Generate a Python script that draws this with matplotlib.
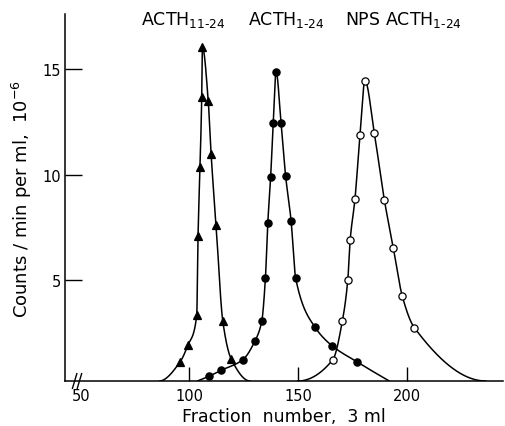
import numpy as np
import matplotlib
matplotlib.use("Agg")
import matplotlib.pyplot as plt

plt.rcParams['font.family'] = ['DejaVu Sans']
plt.rcParams['mathtext.default'] = 'regular'

# ACTH 11-24 (filled triangles)
a11_x = [95.7, 99.3, 103.4, 104.0, 104.9, 105.7, 106.0, 108.7, 110.0, 112.3, 115.4, 119.2]
a11_y = [1.12, 1.91, 3.33, 7.09, 10.36, 13.7, 16.08, 13.5, 11.0, 7.63, 3.05, 1.28]
a11_ends = [86.5, 127.9]

# ACTH 1-24 (filled circles)
a1_x = [108.9, 114.7, 124.6, 130.1, 133.3, 135.0, 136.1, 137.4, 138.6, 139.9,
        142.2, 144.3, 146.8, 148.9, 157.9, 165.8, 177.3]
a1_y = [0.44, 0.73, 1.23, 2.10, 3.05, 5.10, 7.73, 9.89, 12.46, 14.9,
        12.46, 9.94, 7.83, 5.10, 2.76, 1.88, 1.12]
a1_ends = [103.7, 192.0]

# NPS ACTH 1-24 (open circles)
nps_x = [166.0, 170.4, 172.9, 174.0, 176.2, 178.5, 180.8, 185.1, 189.7, 193.8, 198.0, 203.5]
nps_y = [1.23, 3.07, 5.02, 6.92, 8.86, 11.91, 14.47, 11.98, 8.82, 6.55, 4.23, 2.75]
nps_ends = [150.0, 236.3]

xticks = [50, 100, 150, 200]
yticks = [5, 10, 15]

Y0 = 0.22  # level of the x axis


def end_slope(h0, h1, d0, d1):
    m = ((2 * h0 + h1) * d0 - h0 * d1) / (h0 + h1)
    if np.sign(m) != np.sign(d0):
        return 0.0
    if np.sign(d0) != np.sign(d1) and abs(m) > abs(3 * d0):
        return 3 * d0
    return m


def pchip(x, y, xn):
    x = np.asarray(x, float); y = np.asarray(y, float)
    h = np.diff(x); d = np.diff(y) / h
    n = len(x)
    m = np.zeros(n)
    for k in range(1, n - 1):
        if d[k - 1] * d[k] > 0:
            w1 = 2 * h[k] + h[k - 1]
            w2 = h[k] + 2 * h[k - 1]
            m[k] = (w1 + w2) / (w1 / d[k - 1] + w2 / d[k])
    m[0] = end_slope(h[0], h[1], d[0], d[1])
    m[-1] = end_slope(h[-1], h[-2], d[-1], d[-2])
    idx = np.clip(np.searchsorted(x, xn) - 1, 0, n - 2)
    t = (xn - x[idx]) / h[idx]
    h00 = 2 * t**3 - 3 * t**2 + 1
    h10 = t**3 - 2 * t**2 + t
    h01 = -2 * t**3 + 3 * t**2
    h11 = t**3 - t**2
    return h00 * y[idx] + h10 * h[idx] * m[idx] + h01 * y[idx + 1] + h11 * h[idx] * m[idx + 1]


fig = plt.figure(figsize=(5.06, 4.27), dpi=100)
ax = fig.add_axes([65 / 506, 1 - 382 / 427, (503 - 65) / 506, (382 - 15) / 427])

for xs, ys, ends, marker, face in [
    (a11_x, a11_y, a11_ends, '^', 'black'),
    (a1_x, a1_y, a1_ends, 'o', 'black'),
    (nps_x, nps_y, nps_ends, 'o', 'white'),
]:
    cx = [ends[0]] + list(xs) + [ends[1]]
    cy = [Y0] + list(ys) + [Y0]
    xn = np.linspace(cx[0], cx[-1], 2000)
    ax.plot(xn, pchip(cx, cy, xn), color='black', lw=1.1, zorder=2)
    ax.plot(xs, ys, linestyle='none', marker=marker, markersize=5.2,
            markerfacecolor=face, markeredgecolor='black', markeredgewidth=0.9, zorder=3)

ax.set_xlim(42.8, 244.3)
ax.set_ylim(Y0, 17.63)
for s in ['top', 'right']:
    ax.spines[s].set_visible(False)
for s in ['left', 'bottom']:
    ax.spines[s].set_linewidth(1.1)

ax.set_xticks(xticks)
ax.set_xticklabels([str(v) for v in xticks])
ax.set_yticks(yticks)
ax.set_yticklabels([str(v) for v in yticks])
ax.tick_params(axis='x', direction='in', length=10, width=1.0, pad=5, labelsize=10.5)
ax.tick_params(axis='y', direction='in', length=12, width=1.0, pad=3, labelsize=10.5)
ax.xaxis.get_major_ticks()[0].tick1line.set_visible(False)

# axis break marks
for dx in [0.0, 0.011]:
    ax.plot([0.017 + dx, 0.027 + dx], [-0.02, 0.02], transform=ax.transAxes,
            color='black', lw=1.0, clip_on=False)

ax.set_xlabel('Fraction  number,  3 ml', fontsize=12.5, labelpad=3)
ax.set_ylabel('Counts / min per ml,  10$^{-6}$', fontsize=13, labelpad=6)

fig.text(141 / 506, 1 - 25 / 427, r'ACTH$_{11\text{-}24}$', fontsize=12.5, va='baseline', ha='left')
fig.text(248 / 506, 1 - 25 / 427, r'ACTH$_{1\text{-}24}$', fontsize=12.5, va='baseline', ha='left')
fig.text(345 / 506, 1 - 25 / 427, r'NPS ACTH$_{1\text{-}24}$', fontsize=12.5, va='baseline', ha='left')

fig.savefig('out.png', dpi=100)
